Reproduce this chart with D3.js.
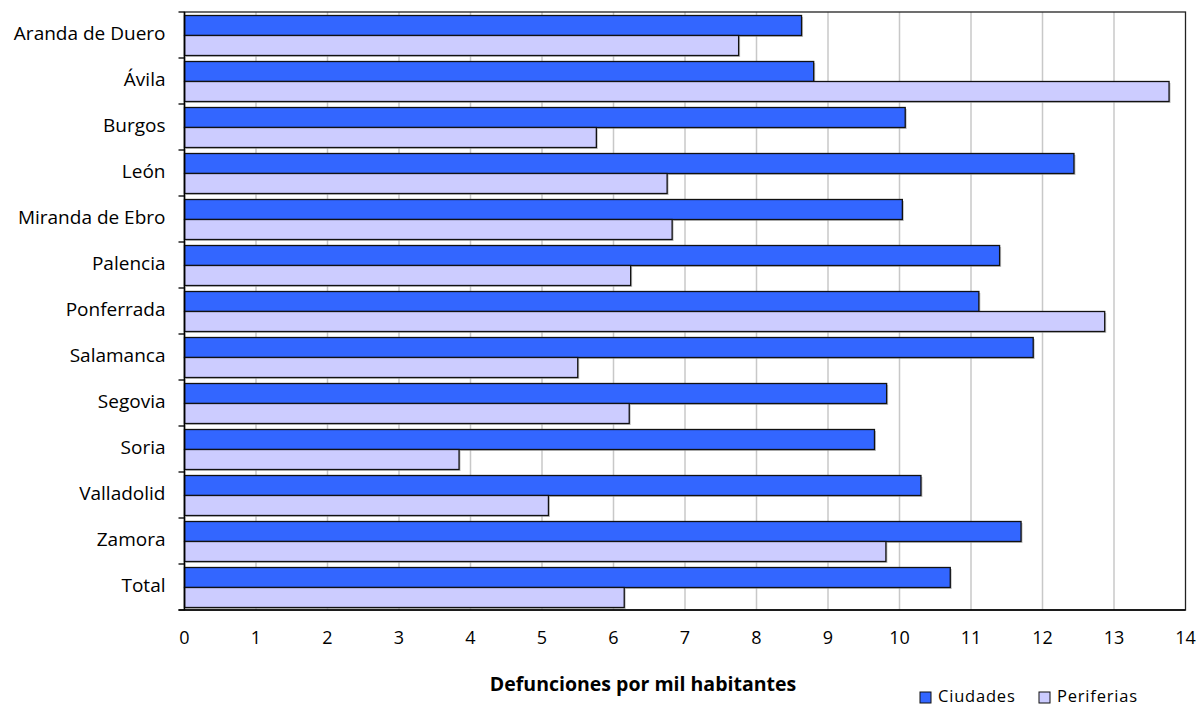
<!DOCTYPE html>
<html>
<head>
<meta charset="utf-8">
<script src="https://cdn.jsdelivr.net/npm/d3@7"></script>
<style>
  html, body { margin: 0; padding: 0; background: #fff; }
  svg { display: block; }
  text { font-family: "Open Sans", Lato, sans-serif; fill: #000; }
</style>
</head>
<body>
<div id="chart"></div>
<script>
const categories = ["Aranda de Duero", "Ávila", "Burgos", "León", "Miranda de Ebro", "Palencia", "Ponferrada", "Salamanca", "Segovia", "Soria", "Valladolid", "Zamora", "Total"];
const ciudades   = [8.63, 8.80, 10.08, 12.44, 10.04, 11.40, 11.11, 11.87, 9.82, 9.65, 10.30, 11.70, 10.71];
const periferias = [7.75, 13.77, 5.76, 6.75, 6.82, 6.24, 12.87, 5.50, 6.22, 3.84, 5.09, 9.81, 6.15];
const seriesNames = ["Ciudades", "Periferias"];
const seriesColors = ["#3366FF", "#CCCCFF"];
const xTicks = d3.range(0, 15, 1);
const xTitle = "Defunciones por mil habitantes";

const W = 1201, H = 709;
const margin = { left: 184.5, right: 15.5, top: 12, bottom: 99 };
const svg = d3.select("#chart").append("svg").attr("width", W).attr("height", H);

const x = d3.scaleLinear().domain([0, 14]).range([margin.left, W - margin.right]);
const y = d3.scaleBand().domain(categories).range([margin.top, H - margin.bottom]).paddingInner(0).paddingOuter(0);
const bandPad = 3.5;
const sub = d3.scaleBand().domain(seriesNames).range([bandPad, y.bandwidth() - 2.5]);

// gridlines
svg.append("g").selectAll("line").data(xTicks.filter(d => d > 0 && d < 14)).join("line")
  .attr("x1", d => x(d)).attr("x2", d => x(d))
  .attr("y1", margin.top).attr("y2", H - margin.bottom)
  .attr("stroke", "#c8c8c8").attr("stroke-width", 1.5);

// bars
const data = categories.map((c, i) => ({ c, vals: [ciudades[i], periferias[i]] }));
const groups = svg.append("g").selectAll("g").data(data).join("g")
  .attr("transform", d => `translate(0,${y(d.c)})`);
seriesNames.forEach((s, si) => {
  groups.append("rect")
    .attr("x", x(0) + 1.5).attr("y", d => sub(s) + 1.5)
    .attr("width", d => x(d.vals[si]) - x(0)).attr("height", sub.bandwidth())
    .attr("fill", "#9a9a9a").attr("opacity", 0.6);
  groups.append("rect")
    .attr("x", x(0)).attr("y", d => sub(s))
    .attr("width", d => x(d.vals[si]) - x(0)).attr("height", sub.bandwidth())
    .attr("fill", seriesColors[si]).attr("stroke", "#111").attr("stroke-width", 1.3);
});

// plot border
svg.append("rect")
  .attr("x", x(0)).attr("y", margin.top)
  .attr("width", x(14) - x(0)).attr("height", H - margin.bottom - margin.top)
  .attr("fill", "none").attr("stroke", "#222").attr("stroke-width", 1.3);

// y axis
const yAxis = svg.append("g").attr("transform", `translate(${x(0)},0)`);
yAxis.append("line").attr("x1", 0).attr("x2", 0).attr("y1", margin.top).attr("y2", H - margin.bottom)
  .attr("stroke", "#000").attr("stroke-width", 1.5);
const bounds = categories.map(c => y(c)).concat([y(categories[categories.length - 1]) + y.bandwidth()]);
yAxis.selectAll("line.tk").data(bounds).join("line").attr("class", "tk")
  .attr("x1", -6).attr("x2", 0).attr("y1", d => d).attr("y2", d => d)
  .attr("stroke", "#000").attr("stroke-width", 1.3);
yAxis.selectAll("text").data(categories).join("text")
  .attr("x", -19).attr("y", d => y(d) + y.bandwidth() / 2)
  .attr("text-anchor", "end").attr("dominant-baseline", "middle")
  .attr("font-size", 19).text(d => d);

// x axis
const xAxisG = svg.append("g").attr("transform", `translate(0,${H - margin.bottom})`);
xAxisG.append("line").attr("x1", x(0) - 6).attr("x2", x(14)).attr("y1", 0).attr("y2", 0)
  .attr("stroke", "#000").attr("stroke-width", 1.5);
xAxisG.selectAll("text").data(xTicks).join("text")
  .attr("x", d => x(d)).attr("y", 29)
  .attr("text-anchor", "middle").attr("dominant-baseline", "middle")
  .attr("font-size", 18).text(d => d);

// x title
svg.append("text").attr("x", 643).attr("y", 686)
  .attr("text-anchor", "middle").attr("dominant-baseline", "middle")
  .attr("font-size", 19.5).attr("font-weight", "bold").text(xTitle);

// legend
const legendX = [920, 1039];
const leg = svg.append("g").selectAll("g").data(seriesNames).join("g")
  .attr("transform", (d, i) => `translate(${legendX[i]},692)`);
leg.append("rect").attr("x", 0).attr("y", 0).attr("width", 11).attr("height", 11)
  .attr("fill", (d, i) => seriesColors[i]).attr("stroke", "#111").attr("stroke-width", 1);
leg.append("text").attr("x", 18).attr("y", 6).attr("dominant-baseline", "middle")
  .attr("font-size", 16.5).attr("letter-spacing", 0.8).text(d => d);
</script>
</body>
</html>
